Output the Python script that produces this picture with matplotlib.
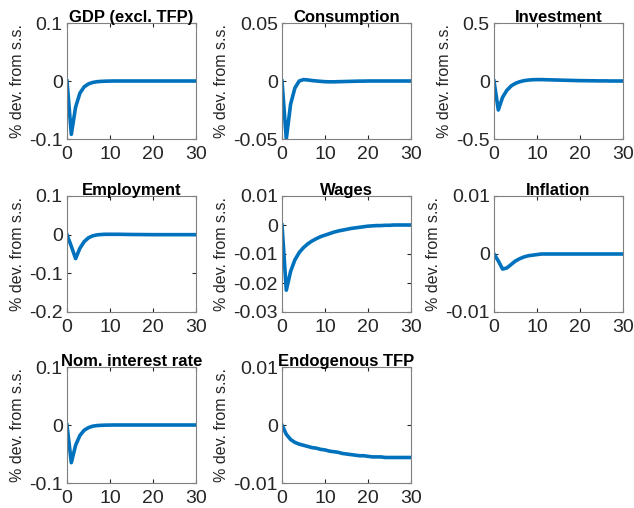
import numpy as np
import matplotlib
matplotlib.use("Agg")
import matplotlib.pyplot as plt
from matplotlib.ticker import FuncFormatter

plt.rcParams['font.family'] = ['Liberation Sans', 'DejaVu Sans']

periods = list(range(31))

titles = ["GDP (excl. TFP)", "Consumption", "Investment", "Employment",
          "Wages", "Inflation", "Nom. interest rate", "Endogenous TFP"]

gdp = [0, -0.092, -0.045, -0.021, -0.010, -0.005, -0.0025, -0.0012, -0.0006, -0.0003,
       -0.0001, 0, 0, 0, 0, 0, 0, 0, 0, 0, 0, 0, 0, 0, 0, 0, 0, 0, 0, 0, 0]
consumption = [0, -0.05, -0.02, -0.006, 0.0, 0.0012, 0.0009, 0.0004, 0.0, -0.0003,
               -0.0006, -0.0007, -0.0007, -0.0006, -0.0005, -0.0004, -0.0003, -0.0002,
               -0.0001, -0.0001, 0, 0, 0, 0, 0, 0, 0, 0, 0, 0, 0]
investment = [0, -0.25, -0.14, -0.08, -0.042, -0.02, -0.006, 0.003, 0.008, 0.011,
              0.012, 0.012, 0.011, 0.010, 0.009, 0.008, 0.007, 0.006, 0.005, 0.004,
              0.003, 0.003, 0.002, 0.002, 0.001, 0.001, 0.001, 0, 0, 0, 0]
employment = [0, -0.03, -0.062, -0.035, -0.018, -0.008, -0.003, -0.0005, 0.0005, 0.001,
              0.001, 0.001, 0.001, 0.0008, 0.0006, 0.0005, 0.0004, 0.0003, 0.0002, 0.0001,
              0, 0, 0, 0, 0, 0, 0, 0, 0, 0, 0]
wages = [0, -0.0225, -0.016, -0.012, -0.0095, -0.0078, -0.0065, -0.0055, -0.0047, -0.004,
         -0.0035, -0.003, -0.0025, -0.0021, -0.0018, -0.0015, -0.0012, -0.001, -0.0008,
         -0.0006, -0.0004, -0.0003, -0.0002, -0.0002, -0.0001, -0.0001, 0, 0, 0, 0, 0]
inflation = [0, -0.0012, -0.0026, -0.0024, -0.0018, -0.0012, -0.0008, -0.0005, -0.0003,
             -0.0002, -0.0001, 0, 0, 0, 0, 0, 0, 0, 0, 0, 0, 0, 0, 0, 0, 0, 0, 0, 0, 0, 0]
interest = [0, -0.065, -0.035, -0.018, -0.009, -0.0045, -0.002, -0.001, -0.0005, -0.0002,
            -0.0001, 0, 0, 0, 0, 0, 0, 0, 0, 0, 0, 0, 0, 0, 0, 0, 0, 0, 0, 0, 0]
tfp = [0, -0.0016, -0.0025, -0.003, -0.0033, -0.0035, -0.0037, -0.0039, -0.004, -0.0042,
       -0.0043, -0.0045, -0.0046, -0.0047, -0.0049, -0.005, -0.0051, -0.0052, -0.0053,
       -0.0053, -0.0054, -0.0055, -0.0055, -0.0055, -0.0056, -0.0056, -0.0056, -0.0056,
       -0.0056, -0.0056, -0.0056]

series = [gdp, consumption, investment, employment, wages, inflation, interest, tfp]

yticks = [[-0.1, 0, 0.1], [-0.05, 0, 0.05], [-0.5, 0, 0.5], [-0.2, -0.1, 0, 0.1],
          [-0.03, -0.02, -0.01, 0, 0.01], [-0.01, 0, 0.01], [-0.1, 0, 0.1], [-0.01, 0, 0.01]]

fig = plt.figure(figsize=(6.34, 5.08), dpi=100)
W, H = 634, 508
lefts = [67, 282, 494]
tops = [23, 196, 367]
aw, ah = 129, 116

fmt = FuncFormatter(lambda v, p: "%g" % v)

for i, (title, data, yt) in enumerate(zip(titles, series, yticks)):
    r, c = divmod(i, 3)
    ax = fig.add_axes([lefts[c] / W, 1 - (tops[r] + ah) / H, aw / W, ah / H])
    ax.plot(periods, data, color="#0072BD", linewidth=2.6)
    ax.set_xlim(0, 30)
    ax.set_ylim(yt[0], yt[-1])
    ax.set_xticks([0, 10, 20, 30])
    ax.set_yticks(yt)
    ax.yaxis.set_major_formatter(fmt)
    ax.tick_params(direction="in", top=True, right=True, labelsize=14,
                   length=3, color="#262626", labelcolor="#262626")
    ax.tick_params(axis="x", pad=5)
    ax.tick_params(axis="y", pad=3)
    for s in ax.spines.values():
        s.set_color("#808080")
        s.set_linewidth(0.8)
    ax.set_title(title, fontsize=12, fontweight="bold", pad=1)
    ax.set_ylabel("% dev. from s.s.", fontsize=11.5, color="#262626", labelpad=3)

fig.savefig("out.png", dpi=100)
